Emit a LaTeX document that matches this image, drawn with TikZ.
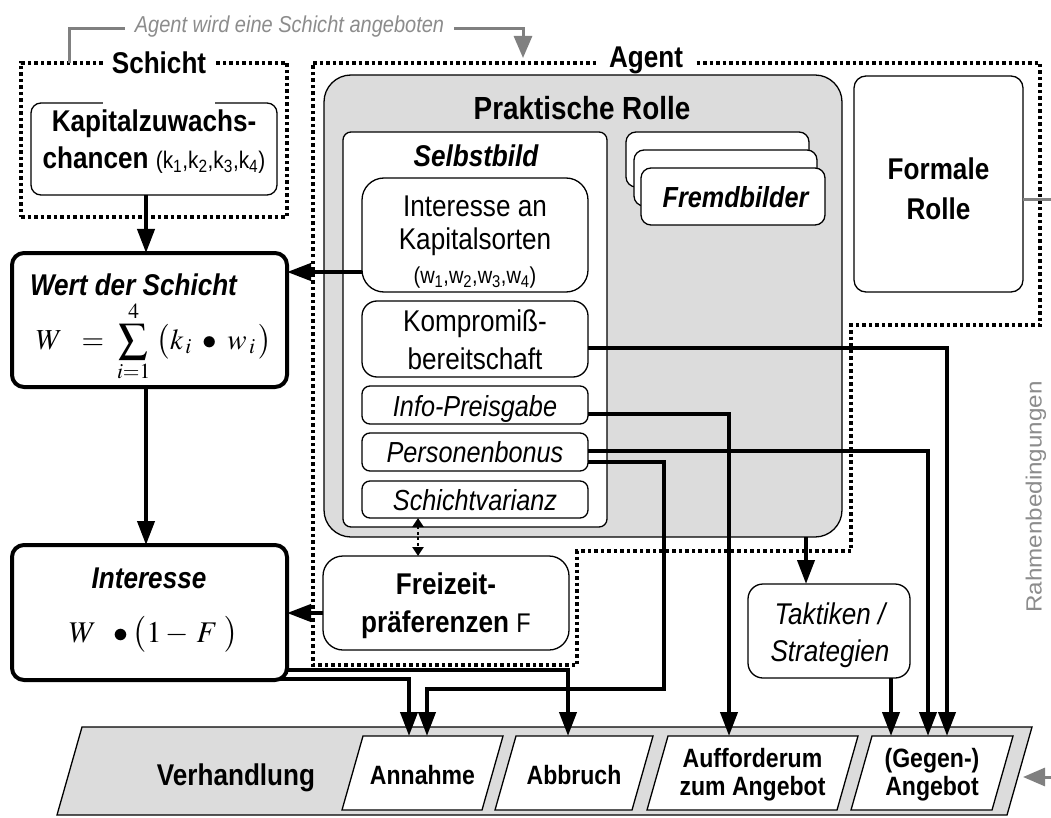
\documentclass[tikz,border=0pt]{standalone}
\usepackage{mathptmx}
\usepackage[no-math]{fontspec}
\setmainfont{Liberation Sans}[FakeStretch=0.87]
\newfontfamily\rahmenfont{Liberation Sans}[FakeStretch=1.1]
\usetikzlibrary{arrows.meta}
\definecolor{lgray}{RGB}{220,220,220}
\definecolor{lngray}{RGB}{128,128,128}
\definecolor{txgray}{RGB}{140,140,140}
\newcommand\fsz[2]{\fontsize{#1}{#2}\selectfont}
\tikzset{
  every node/.style={inner sep=0pt,outer sep=0pt},
  thinbox/.style={draw,line width=1.3pt,fill=white,rounded corners=#1},
  thinbox/.default=10pt,
  thickbox/.style={draw,line width=4pt,fill=white,rounded corners=12pt},
  conn/.style={line width=4pt,-{Triangle[length=24pt,width=17pt]}},
  dotb/.style={line width=3.5pt,dash pattern=on 3.5pt off 3pt},
  dd/.style={line width=2.5pt,dash pattern=on 3pt off 2.5pt,{Triangle[length=9pt,width=11pt]}-{Triangle[length=9pt,width=11pt]}},
  gline/.style={line width=3pt,draw=lngray},
  garrow/.style={line width=3pt,draw=lngray,-{Triangle[length=22pt,width=18pt]}},
  fbold/.style={font=\fsz{30}{38}\bfseries},
  fbi/.style={font=\fsz{30}{38}\bfseries\itshape},
  freg/.style={font=\fsz{30}{38}},
  fit/.style={font=\fsz{29}{37}\itshape},
  fpar/.style={font=\fsz{26.5}{28}\bfseries,align=center,minimum height=78pt},
  para/.style={draw,line width=1.3pt,fill=white}
}
\begin{document}
\begin{tikzpicture}[x=1pt,y=-1pt]
\useasboundingbox (0,0) rectangle (1051,818);

% ---- boundaries
\draw[dotb] (313,63) -- (1040,63) -- (1040,325) -- (851,325) -- (851,551) -- (577,551) -- (577,665) -- (313,665) -- cycle;
\node[draw,dotb,minimum width=266pt,minimum height=154pt] (schichtbox) at (154,140) {};

% ---- Schicht
\node[thinbox=10pt,minimum width=246pt,minimum height=92pt] (kap) at (154,149) {};
\node[align=center,font=\fsz{30}{37.5}] (kaptext) at (154,141.5)
  {\textbf{Kapitalzuwachs-}\\\textbf{chancen} {\fsz{24}{37.5}(k\textsubscript{1},k\textsubscript{2},k\textsubscript{3},k\textsubscript{4})}};
\node[fill=white,anchor=base,inner xsep=9pt,text depth=32pt,fbold] (schichtlabel) at (159,74) {Schicht};
\node[fill=white,anchor=base,inner xsep=11pt,inner ysep=3pt,text depth=4pt,fbold] (agentlabel) at (646,68) {Agent};

% ---- left column
\node[thickbox,minimum width=275pt,minimum height=134pt] (wert) at (149.5,320) {};
\node[anchor=base,fbi] (werttitle) at (133.5,295) {Wert der Schicht};
\node[anchor=base,font=\fsz{29}{35}] (wertformel) at (154,349)
  {$\displaystyle W\;\;=\;\sum_{i=1}^{4}\;\bigl(k_{\,i}\;\bullet\;w_{\,i}\,\bigr)$};
\node[thickbox,minimum width=275pt,minimum height=135pt] (interesse) at (149.5,612.5) {};
\node[anchor=base,fbi] (inttitle) at (149,588) {Interesse};
\node[anchor=base,font=\fsz{30}{36}] (intformel) at (153.5,642) {$W\;\;\bullet\bigl(1-\,F\;\bigr)$};

% ---- Praktische Rolle
\node[draw,line width=1.3pt,fill=lgray,rounded corners=27pt,minimum width=518pt,minimum height=462pt] (prakt) at (583,306) {};
\node[anchor=base,font=\fsz{32}{38}\bfseries] (prakttitle) at (582,120) {Praktische Rolle};
\node[thinbox=8pt,minimum width=264pt,minimum height=395pt] (selbst) at (475,329.5) {};
\node[anchor=base,fbi] (selbsttitle) at (476,167) {Selbstbild};
\node[thinbox=22pt,minimum width=226pt,minimum height=114pt] (intkap) at (475,235) {};
\node[align=center,font=\fsz{30}{33.5}] (intkaptext) at (475,242)
  {Interesse an\\Kapitalsorten\\{\fsz{23}{33.5}(w\textsubscript{1},w\textsubscript{2},w\textsubscript{3},w\textsubscript{4})}};
\node[thinbox=15pt,minimum width=226pt,minimum height=76pt] (komp) at (475,339) {};
\node[align=center,freg] (komptext) at (475,340) {Kompromiß-\\bereitschaft};
\node[thinbox=8pt,minimum width=226pt,minimum height=38pt] (info) at (475,405) {};
\node[anchor=base,fit] (infotext) at (475,416) {Info-Preisgabe};
\node[thinbox=8pt,minimum width=226pt,minimum height=38pt] (pers) at (475,452) {};
\node[anchor=base,fit] (perstext) at (475,462) {Personenbonus};
\node[thinbox=8pt,minimum width=226pt,minimum height=37pt] (schv) at (475,499.5) {};
\node[anchor=base,fit] (schvtext) at (475,510) {Schichtvarianz};

\node[thinbox=10pt,minimum width=183pt,minimum height=55pt] (fremdC) at (717.5,159.5) {};
\node[thinbox=10pt,minimum width=183pt,minimum height=56pt] (fremdB) at (725.5,178) {};
\node[thinbox=10pt,minimum width=184pt,minimum height=57pt] (fremdA) at (733,196.5) {};
\node[anchor=base,font=\fsz{29}{36}\bfseries\itshape] (fremdtext) at (735.5,208) {Fremdbilder};

\node[thinbox=12pt,minimum width=169pt,minimum height=216pt] (formal) at (938.5,184) {};
\node[align=center,font=\fsz{30}{40}\bfseries] (formaltext) at (938.5,189) {Formale\\Rolle};

\node[thinbox=20pt,minimum width=246pt,minimum height=94pt] (freizeit) at (446,603) {};
\node[align=center,font=\fsz{30}{38}] (freizeittext) at (446,606) {\textbf{Freizeit-}\\\textbf{präferenzen} {\fsz{27}{38}F}};

\node[thinbox=15pt,minimum width=162pt,minimum height=94pt] (taktik) at (829,631) {};
\node[align=center,font=\fsz{30}{37}\itshape] (taktiktext) at (830,635.5) {Taktiken /\\Strategien};

% ---- Verhandlung
\draw[line width=1.3pt,fill=lgray] (82,727) -- (1032,727) -- (1007,815) -- (57,815) -- cycle;
\node[anchor=base,fbold] (verh) at (236,785) {Verhandlung};
\draw[para] (363,736) -- (503,736) -- (482,810) -- (342,810) -- cycle;
\draw[para] (516,736) -- (653,736) -- (632,810) -- (495,810) -- cycle;
\draw[para] (668,736) -- (858,736) -- (837,810) -- (647,810) -- cycle;
\draw[para] (872,736) -- (1013,736) -- (992,810) -- (851,810) -- cycle;
\node[fpar] (annahme) at (422.5,775) {Annahme};
\node[fpar] (abbruch) at (574,775) {Abbruch};
\node[fpar] (auff) at (752.5,775) {Aufforderum\\zum Angebot};
\node[fpar] (gegen) at (932,775) {(Gegen-)\\Angebot};

% ---- connectors
\draw[conn] (146,0 |- kap.south) -- (146,0 |- wert.north);
\draw[conn] (intkap.west |- 0,272) -- (wert.east |- 0,272);
\draw[conn] (146,0 |- wert.south) -- (146,0 |- interesse.north);
\draw[conn] (freizeit.west |- 0,613) -- (interesse.east |- 0,613);
\draw[dd] (418,0 |- schv.south) -- (418,0 |- freizeit.north);
\draw[conn] (806,0 |- prakt.south) -- (806,0 |- taktik.north);
\draw[conn] (komp.east |- 0,348) -| (947,0 |- gegen.north);
\draw[conn] (info.east |- 0,414) -| (729,0 |- auff.north);
\draw[conn] (pers.east |- 0,451) -| (928,0 |- gegen.north);
\draw[conn] (pers.east |- 0,462) -| (664,689) -| (427,0 |- annahme.north);
\draw[conn] (interesse.east |- 0,670) -| (568,0 |- abbruch.north);
\draw[conn] ([xshift=-6pt,yshift=1pt]interesse.south east) -| (409,0 |- annahme.north);
\draw[conn] (891,0 |- taktik.south) -- (891,0 |- gegen.north);

% ---- gray annotations
\node[anchor=base,font=\fsz{23}{28}\itshape,text=txgray,inner xsep=10pt] (offer) at (289.5,33) {Agent wird eine Schicht angeboten};
\coordinate (offerend) at (523,58);
\draw[gline] (69,0 |- schichtbox.north) |- (offer.west |- 0,29);
\draw[garrow] (offer.east |- 0,29) -| (offerend);
\coordinate (rimA) at (1051,200);
\draw[gline] (formal.east |- rimA) -- (rimA);
\coordinate (rimB) at (1051,777);
\coordinate (verhR) at (1023,777);
\draw[garrow] (rimB) -- (verhR);
\node[rotate=90,font=\rahmenfont\fsz{22}{26},text=txgray] (rahmen) at (1036,497) {Rahmenbedingungen};
\end{tikzpicture}
\end{document}
